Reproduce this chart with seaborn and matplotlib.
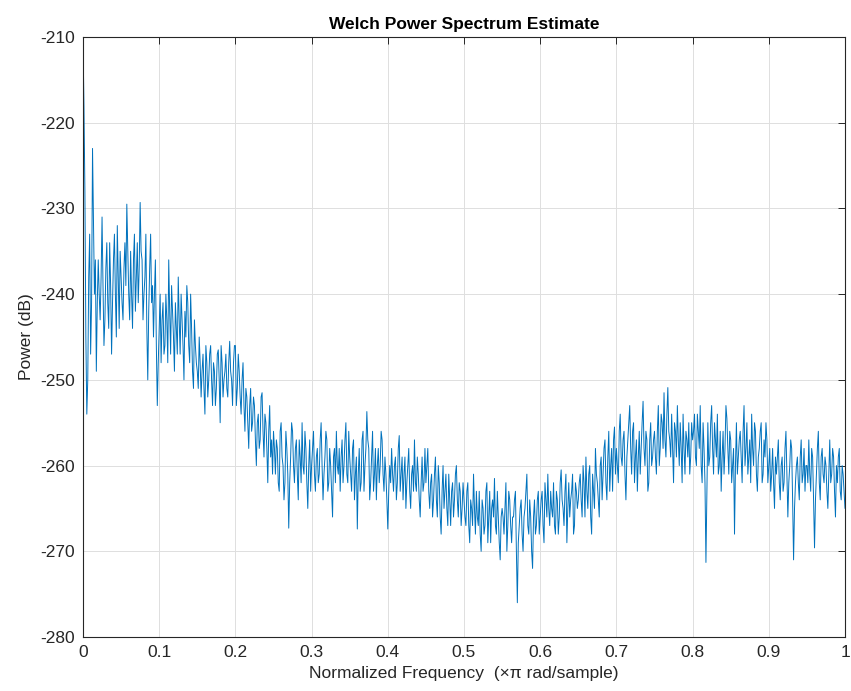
import numpy as np
import pandas as pd
import matplotlib
matplotlib.use("Agg")
import matplotlib.pyplot as plt
import seaborn as sns

# Power values (dB), 401 samples from 0 to 1 (x pi rad/sample)
power_db = [
    # 0.00 - 0.0475
    -210.5, -228, -254, -238, -247, -223, -240, -249, -236, -243, -231, -246, -237, -241, -234, -247, -236, -240, -232, -244,
    # 0.05 - 0.0975
    -238, -243, -234, -229.5, -240, -235, -244, -233, -238, -241, -229.3, -236, -240, -233, -250, -237, -241, -245, -236, -253,
    # 0.10
    -244, -248, -241, -246, -243, -236, -247, -242, -249, -244, -238, -247, -243, -250, -245, -241, -248, -244, -251, -246,
    # 0.15
    -249, -245, -252, -247, -254, -248, -250, -246, -253, -249, -251, -246.5, -255, -248, -250, -247, -252, -245.5, -250, -248,
    # 0.20
    -246, -251, -249, -254, -248, -256, -252, -258, -251, -255, -253, -260, -254, -257, -251.5, -259, -255, -262, -253, -257,
    # 0.25
    -256, -261, -258, -263, -255, -260, -262, -258, -267.3, -259, -256, -262, -257, -264, -259, -255, -261, -258, -265, -257,
    # 0.30
    -260, -256, -263, -258, -261, -255, -264, -259, -257, -262, -260, -266, -258, -256, -261, -263, -257, -260, -255, -262,
    # 0.35
    -259, -263, -257, -261, -267.4, -258, -262, -256, -260, -253.7, -258, -262, -256, -261, -264, -258, -260, -257, -263, -261,
    # 0.40
    -267.4, -260, -258, -263, -259, -262, -256.5, -261, -264, -259, -262, -258, -265, -260, -257, -263, -261, -266, -259, -262,
    # 0.45
    -262, -258, -265, -261, -264, -259, -266, -262, -268, -260, -263, -265, -261, -267, -262, -264, -260, -266, -263, -265,
    # 0.50
    -264, -267, -262, -269, -265, -261, -268, -266, -263, -270, -265, -267, -262, -266, -269, -264, -261.5, -268, -266, -271,
    # 0.55
    -265, -268, -262, -267, -264, -269, -266, -263, -276, -267, -264, -270, -265, -261, -268, -266, -272, -264, -267, -263,
    # 0.60
    -266, -263, -269, -264, -261, -267, -265, -262, -268, -264, -266, -260.5, -265, -263, -269, -262, -264, -261, -267, -263,
    # 0.65
    -264, -261, -266, -262, -259, -265, -260, -268, -263, -258, -262, -266, -259, -261, -257, -264, -256, -260, -263, -255.5,
    # 0.70
    -258, -262, -254, -260, -256, -264, -257, -253, -261, -255, -259, -263, -256, -258, -252.5, -260, -257, -262, -255, -259,
    # 0.75
    -256, -261, -253, -258, -255, -251.5, -259, -250.9, -257, -254, -262, -256, -253, -260, -258, -254, -261, -257, -255, -259,
    # 0.80
    -257, -254, -260, -256, -253, -262, -258, -271.3, -255, -259, -253, -261, -257, -254, -260, -263, -256, -258, -254.5, -261,
    # 0.85
    -257, -260, -268, -255, -259, -256, -262, -253, -258, -261, -257, -254, -260, -256, -263, -258, -255, -261, -259, -257,
    # 0.90
    -260, -263, -258, -265, -261, -257, -264, -259, -262, -256, -266, -260, -258, -271, -262, -259, -264, -257, -261, -263,
    # 0.95
    -260, -257, -263, -259, -269.6, -261, -256, -264, -258, -262, -260, -265, -257, -261, -259, -266, -262, -258, -264, -261,
    # 1.00
    -265,
]

# Additional readings taken half-way between the samples above (dense noise band)
power_db_mid = [
    -218, -245, -250, -233, -241, -232, -236, -241, -240, -238, -239, -243, -234, -244, -239, -241, -233, -245, -238, -235,
    -241, -237, -239, -235, -243, -240, -236, -242, -234, -237, -235, -243, -238, -244, -242, -233, -239, -240, -246, -248,
    -240, -243, -247, -240, -248, -242, -239, -245, -241, -247, -243, -240, -246, -242, -239, -246, -240, -249, -243, -248,
    -251, -248, -249, -251, -246, -252, -247, -250, -248, -253, -247, -250, -246, -252, -249, -251, -248, -249, -253, -246,
    -253, -247, -252, -250, -253, -251, -255, -253, -256, -252, -257, -255, -258, -252, -256, -254, -258, -256, -259, -261,
    -258, -257, -262, -256, -259, -264, -256, -261, -262, -255, -260, -258, -261, -257, -262, -260, -256, -262, -260, -263,
    -258, -261, -259, -262, -257, -260, -261, -256, -263, -258, -263, -259, -262, -260, -258, -259, -262, -257, -261, -256,
    -261, -258, -264, -259, -261, -263, -257, -263, -258, -257, -264, -259, -263, -258, -260, -262, -256, -261, -259, -264,
    -263, -262, -261, -260, -264, -258, -263, -259, -261, -265, -260, -263, -261, -263, -262, -259, -264, -262, -263, -258,
    -260, -263, -262, -266, -261, -264, -260, -266, -263, -265, -261, -267, -264, -263, -266, -261, -264, -262, -267, -262,
    -266, -263, -267, -264, -267, -265, -263, -267, -268, -264, -268, -263, -269, -263, -265, -266, -267, -263, -269, -266,
    -266, -265, -270, -263, -267, -266, -264, -270, -269, -265, -268, -266, -263, -267, -264, -270, -266, -268, -264, -268,
    -264, -267, -262, -266, -265, -263, -266, -267, -263, -268, -262, -264, -267, -261, -265, -266, -263, -268, -262, -265,
    -262, -264, -260, -266, -263, -261, -266, -261, -265, -261, -264, -260, -264, -258, -262, -259, -263, -258, -257, -261,
    -260, -256, -259, -257, -261, -259, -255, -258, -256, -262, -257, -259, -261, -255, -258, -256, -263, -257, -260, -257,
    -259, -256, -260, -254, -258, -257, -254, -256, -259, -258, -255, -259, -257, -255, -262, -258, -256, -259, -261, -255,
    -256, -259, -254, -258, -260, -255, -262, -263, -260, -255, -258, -255, -259, -261, -256, -259, -261, -253, -258, -256,
    -262, -258, -260, -261, -257, -259, -256, -260, -255, -259, -262, -258, -255, -261, -259, -256, -262, -257, -255, -262,
    -258, -261, -262, -259, -259, -262, -260, -263, -258, -261, -262, -257, -264, -265, -260, -262, -259, -262, -258, -260,
    -262, -261, -258, -264, -264, -258, -262, -259, -261, -259, -263, -261, -262, -258, -263, -260, -259, -263, -260, -263,
]

x_ticks = [0, 0.1, 0.2, 0.3, 0.4, 0.5, 0.6, 0.7, 0.8, 0.9, 1]
x_tick_labels = ["0", "0.1", "0.2", "0.3", "0.4", "0.5", "0.6", "0.7", "0.8", "0.9", "1"]
y_ticks = [-280, -270, -260, -250, -240, -230, -220, -210]
y_tick_labels = [str(v) for v in y_ticks]

title = "Welch Power Spectrum Estimate"
xlabel = "Normalized Frequency  (×π rad/sample)"
ylabel = "Power (dB)"

# Interleave the two sets of readings on a common frequency axis
freq_main = np.linspace(0.0, 1.0, len(power_db))
step = freq_main[1] - freq_main[0]
freq_mid = freq_main[:-1] + step / 2
freq = np.empty(len(power_db) + len(power_db_mid))
power = np.empty_like(freq)
freq[0::2], power[0::2] = freq_main, power_db
freq[1::2], power[1::2] = freq_mid, power_db_mid

sns.set_theme(style="white")
plt.rcParams["font.family"] = ["Liberation Sans", "DejaVu Sans"]
plt.rcParams["axes.unicode_minus"] = False

df = pd.DataFrame({"freq": freq, "power": power})

fig = plt.figure(figsize=(8.51, 6.91), dpi=100)
ax = fig.add_axes([83 / 851, 1 - 637 / 691, (845 - 83) / 851, (637 - 37) / 691])

sns.lineplot(data=df, x="freq", y="power", color="#0072BD", linewidth=0.7,
             estimator=None, sort=False, ax=ax)

ax.set_xlim(0, 1)
ax.set_ylim(-280, -210)
ax.set_xticks(x_ticks)
ax.set_xticklabels(x_tick_labels)
ax.set_yticks(y_ticks)
ax.set_yticklabels(y_tick_labels)

ax.grid(True, color="#dedede", linewidth=0.7)
ax.set_axisbelow(True)
for s in ax.spines.values():
    s.set_color("#262626")
    s.set_linewidth(0.8)
    s.set_visible(True)

ax.tick_params(axis="both", which="both", direction="in", length=5, width=0.7,
               color="#262626", top=True, right=True, labelsize=12.5,
               labelcolor="#262626", pad=6)

ax.set_title(title, fontsize=12.5, fontweight="bold", color="#000000", pad=6)
ax.set_xlabel(xlabel, fontsize=12.5, color="#262626", labelpad=4)
ax.set_ylabel(ylabel, fontsize=12.5, color="#262626", labelpad=4)

fig.savefig("out.png", dpi=100, facecolor="white")
